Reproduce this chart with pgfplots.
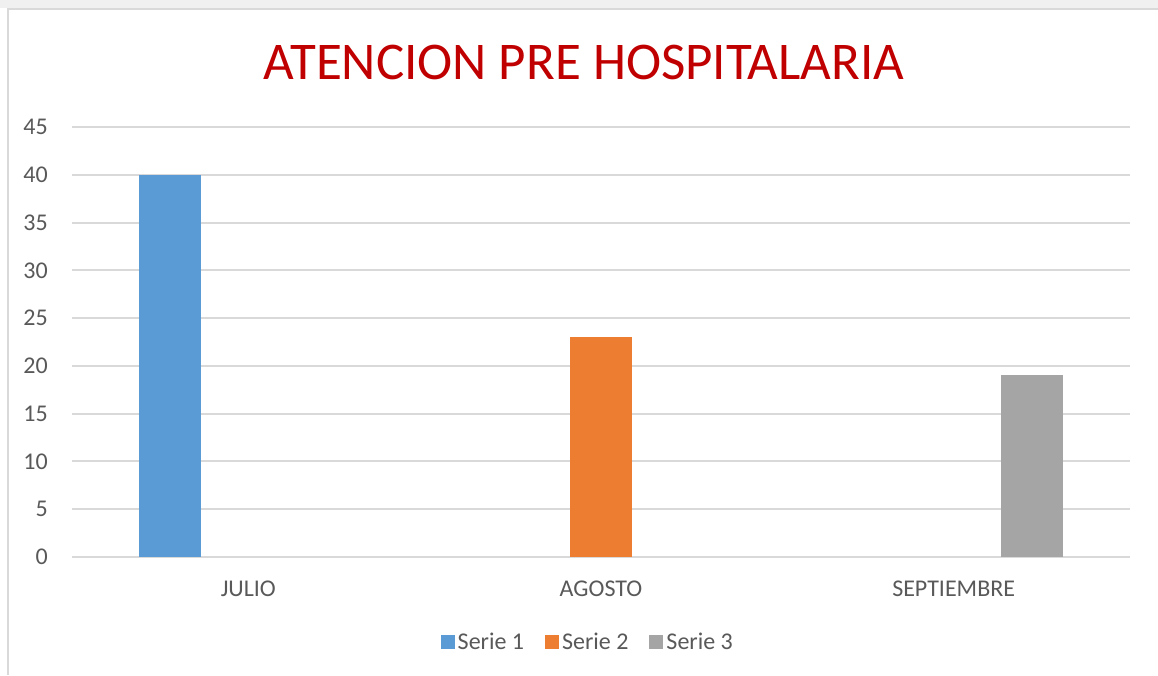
\documentclass[border=0pt]{standalone}
\usepackage{pgfplots}
\pgfplotsset{compat=1.18}
\usepackage{fontspec}
\setmainfont{Carlito}
\definecolor{serA}{HTML}{5B9BD5}
\definecolor{serB}{HTML}{ED7D31}
\definecolor{serC}{HTML}{A5A5A5}
\definecolor{gridgray}{HTML}{D9D9D9}
\definecolor{txtgray}{HTML}{595959}
\definecolor{titlered}{HTML}{C00000}
\begin{document}
\begin{tikzpicture}[x=1pt,y=1pt]
\begin{axis}[
    scale only axis,
    width=1058pt, height=430pt,
    ybar=16pt, bar width=62pt,
    xmin=-0.5, xmax=2.5,
    ymin=0, ymax=45,
    xtick={0,1,2},
    xticklabels={JULIO, AGOSTO, SEPTIEMBRE},
    ytick={0,5,...,45},
    axis line style={draw=none},
    major tick length=0pt,
    ymajorgrids,
    grid style={gridgray, line width=2pt},
    tick label style={text=txtgray, font=\fontsize{24}{28}\selectfont},
    /pgf/number format/assume math mode=true,
    yticklabel style={anchor=east, inner sep=0pt, xshift=-24pt},
    xticklabel style={anchor=north, inner sep=0pt, yshift=-24pt},
    legend columns=3,
    legend style={at={(0.488,-0.197)}, anchor=center, draw=none,
        font=\fontsize{24}{28}\selectfont, text=txtgray,
        /tikz/every even column/.append style={column sep=18pt},
        nodes={inner sep=3pt}},
    legend image code/.code={\fill[#1] (0pt,-7pt) rectangle (14pt,7pt);},
]
\addplot[fill=serA, draw=none] coordinates {(0,40)};
\addplot[fill=serB, draw=none] coordinates {(1,23)};
\addplot[fill=serC, draw=none] coordinates {(2,19)};
\legend{Serie 1, Serie 2, Serie 3}
\coordinate (sw) at (rel axis cs:0,0);
\end{axis}
% page frame, title and background, placed from the plot area corner
\begin{scope}[shift={(sw)}]
\fill[black!6] (-72,-118+667) rectangle (1086,557);
\draw[gridgray, line width=2pt] (-64,-118) -- (-64,548) -- (1086,548);
\node[anchor=base, text=titlered, font=\fontsize{53}{60}\selectfont] at (512,477) {ATENCION PRE HOSPITALARIA};
\pgfresetboundingbox
\useasboundingbox (-72,-118) rectangle (1086,557);
\end{scope}
\end{tikzpicture}
\end{document}
